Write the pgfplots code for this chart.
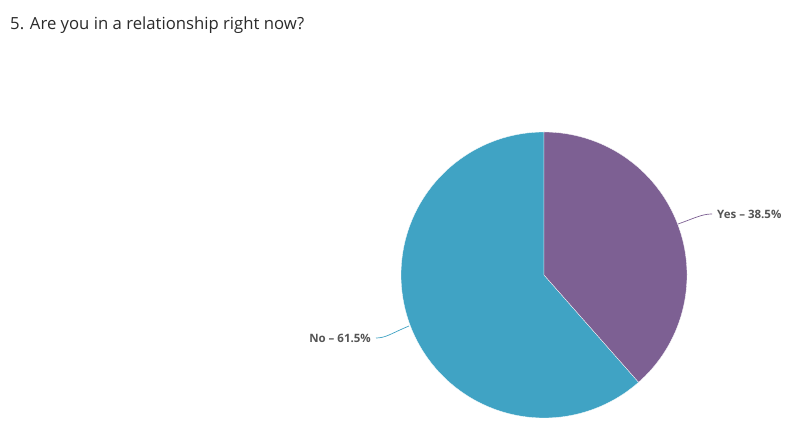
\documentclass[border=0pt]{standalone}
\usepackage{pgfplots}
\pgfplotsset{compat=1.18}
\usepackage{fontspec}
\setmainfont{Open Sans}
\definecolor{pyes}{HTML}{7D6093}
\definecolor{pno}{HTML}{40A3C4}
\definecolor{ttl}{HTML}{2B2B2B}
\definecolor{lbl}{HTML}{555555}
\begin{document}
\begin{tikzpicture}
\pgfmathsetmacro{\yes}{38.5}
\pgfmathsetmacro{\no}{61.5}
\pgfmathsetmacro{\aA}{90}
\pgfmathsetmacro{\aB}{90-3.6*\yes}
\pgfmathsetmacro{\aC}{\aB-3.6*\no}
\begin{axis}[
  width=810pt, height=438pt, scale only axis,
  xmin=0, xmax=810, ymin=-438, ymax=0,
  hide axis, clip=false,
]
\fill[white] (axis cs:0,-438) rectangle (axis cs:810,0);
\addplot[fill=pno, draw=white, line width=0.3pt, domain=\aB:\aC, samples=160]
  ({544+143*cos(x)},{-275+143*sin(x)}) -- (axis cs:544,-275) -- cycle;
\addplot[fill=pyes, draw=white, line width=0.3pt, domain=\aA:\aB, samples=120]
  ({544+143*cos(x)},{-275+143*sin(x)}) -- (axis cs:544,-275) -- cycle;
% connectors
\draw[pyes, line width=0.7pt] (axis cs:678,-224) .. controls (axis cs:695,-218) and (axis cs:702,-214) .. (axis cs:712,-214);
\draw[pno, line width=0.7pt] (axis cs:409,-326) .. controls (axis cs:392,-333) and (axis cs:386,-338) .. (axis cs:376,-338);
\node[anchor=west, inner sep=0pt, text=lbl, font=\fontsize{11.5}{13}\selectfont\bfseries] at (axis cs:717,-214.5) {Yes – \yes\%};
\node[anchor=east, inner sep=0pt, text=lbl, font=\fontsize{11.5}{13}\selectfont\bfseries] at (axis cs:371,-338.5) {No – \no\%};
\node[anchor=base west, inner sep=0pt, text=ttl, font=\fontsize{16.7}{19}\selectfont] at (axis cs:10,-30) {5. Are you in a relationship right now?};
\end{axis}
\end{tikzpicture}
\end{document}
